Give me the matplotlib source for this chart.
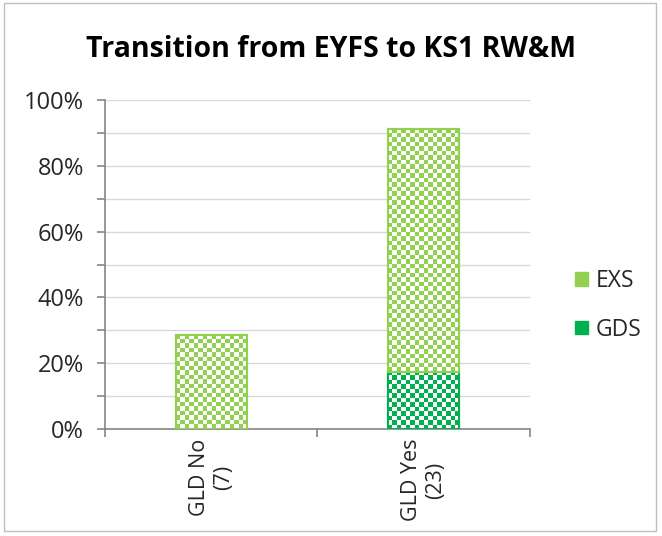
import numpy as np
import matplotlib.pyplot as plt
from matplotlib.patches import Patch, Rectangle
from matplotlib.ticker import MultipleLocator, PercentFormatter

plt.rcParams['font.family'] = ['Open Sans', 'DejaVu Sans']
plt.rcParams['hatch.color'] = 'white'

# data
categories = ["GLD No\n(7)", "GLD Yes\n(23)"]
gds = [0.0, 17.4]
exs = [28.6, 73.9]
exs_color = "#92D050"
gds_color = "#00B050"

fig = plt.figure(figsize=(6.62, 5.36), dpi=100)
ax = fig.add_axes([0.1586, 0.1996, 0.642, 0.6138])

x = np.arange(len(categories))
width = 0.335

bars_gds = ax.bar(x, gds, width, color=gds_color, edgecolor=gds_color, linewidth=1.5, zorder=3)
bars_exs = ax.bar(x, exs, width, bottom=gds, color=exs_color, edgecolor=exs_color, linewidth=1.5, zorder=3)

ax.set_xlim(-0.5, 1.5)
ax.set_ylim(0, 100)


# checkerboard fill, clipped to each bar
def checker(color, n, m):
    rgb = np.array(plt.matplotlib.colors.to_rgb(color))
    ii, jj = np.indices((m, n))
    mask = (ii + jj) % 2 == 0
    img = np.ones((m, n, 3))
    img[mask] = rgb
    return img


def fill_checker(bars, color, cell=4.5):
    for b in bars:
        if b.get_height() <= 0:
            continue
        x0, y0 = b.get_x(), b.get_y()
        w, h = b.get_width(), b.get_height()
        ny = max(2, int(round(h * 3.29 / cell)))
        nx = max(2, int(round(w * 212.5 / cell)))
        im = ax.imshow(checker(color, nx, ny), extent=[x0, x0 + w, y0, y0 + h],
                       aspect='auto', interpolation='nearest', zorder=3.5, origin='lower')
        im.set_clip_path(b)
        edge = Rectangle((x0, y0), w, h, fill=False, edgecolor=color, linewidth=1.5, zorder=4)
        ax.add_patch(edge)


fill_checker(bars_gds, gds_color)
fill_checker(bars_exs, exs_color)

ax.set_xlim(-0.5, 1.5)
ax.set_ylim(0, 100)

# axes styling
ax.yaxis.set_major_locator(MultipleLocator(20))
ax.yaxis.set_minor_locator(MultipleLocator(10))
ax.yaxis.set_major_formatter(PercentFormatter(decimals=0))
ax.grid(axis='y', which='both', color='#D9D9D9', linewidth=1, zorder=0)
ax.set_axisbelow(True)
for s in ['top', 'right']:
    ax.spines[s].set_visible(False)
for s in ['left', 'bottom']:
    ax.spines[s].set_color('#868686')
    ax.spines[s].set_linewidth(1.2)
ax.tick_params(axis='y', which='both', direction='out', color='#868686', length=6, width=1.2,
               labelsize=17, labelcolor='#262626', pad=9)

ax.set_xticks([-0.5, 0.5, 1.5])
ax.set_xticklabels([])
ax.tick_params(axis='x', direction='out', color='#868686', length=6, width=1.2)
for xi, lab in zip(x, categories):
    ax.text(xi, -3.0, lab, rotation=90, ha='center', va='top', multialignment='center',
            fontsize=15.5, color='#262626')

fig.suptitle("Transition from EYFS to KS1 RW&M", x=0.5, y=0.935, fontsize=20.5,
             fontweight='bold', color='#000000')

handles = [Patch(facecolor=exs_color, edgecolor=exs_color, hatch='++'),
           Patch(facecolor=gds_color, edgecolor=gds_color, hatch='++')]
fig.legend(handles, ["EXS", "GDS"], loc='center left', bbox_to_anchor=(0.838, 0.43),
           frameon=False, fontsize=16.5, handlelength=0.55, handleheight=0.55,
           handletextpad=0.35, labelspacing=1.05, labelcolor='#262626')

fig.add_artist(Rectangle((0.006, 0.01), 0.985, 0.985, transform=fig.transFigure,
                         fill=False, edgecolor='#BFBFBF', linewidth=1))

fig.savefig("out.png", dpi=100)
